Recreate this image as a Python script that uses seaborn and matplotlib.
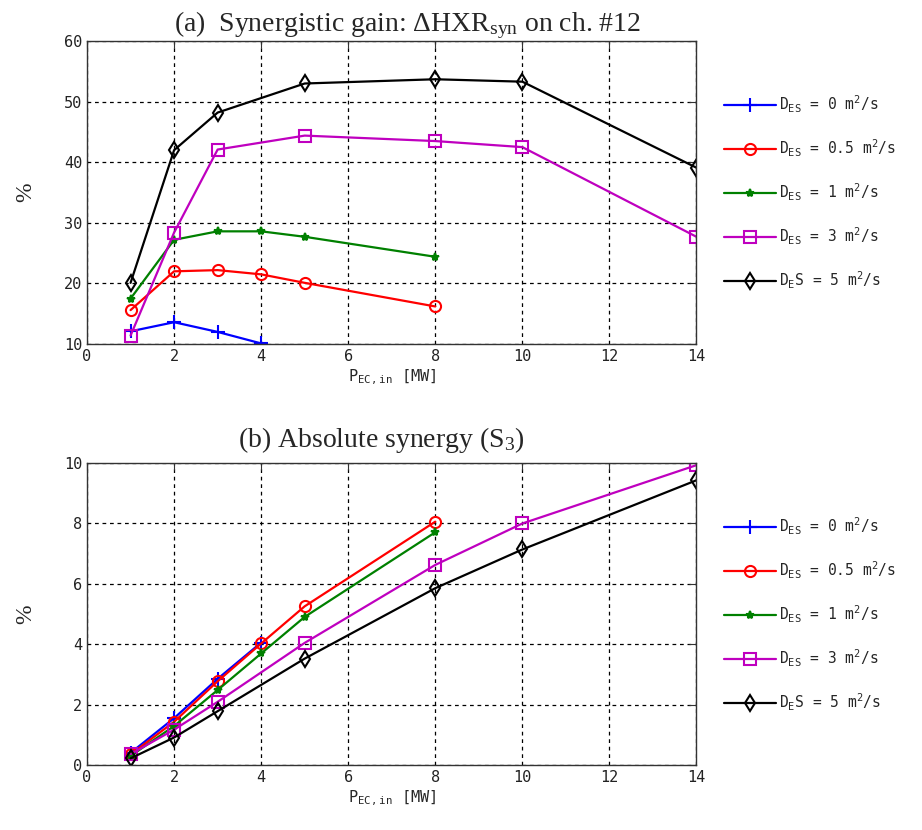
import numpy as np
import pandas as pd
import seaborn as sns
import matplotlib
matplotlib.use("Agg")
import matplotlib.pyplot as plt

# panel (a): synergistic gain [%]
x_a_short = [1, 2, 3, 4]
x_a_mid = [1, 2, 3, 4, 5, 8]
x_a_long = [1, 2, 3, 5, 8, 10, 14]
gain_d0 = [12.1, 13.6, 12.0, 10.1]
gain_d05 = [15.6, 22.0, 22.2, 21.5, 20.1, 16.2]
gain_d1 = [17.5, 27.2, 28.6, 28.6, 27.7, 24.4]
gain_d3 = [11.4, 28.4, 42.1, 44.4, 43.5, 42.5, 27.7]
gain_d5 = [20.1, 42.0, 48.2, 53.0, 53.7, 53.3, 39.1]

# panel (b): absolute synergy [%]
syn_d0 = [0.4, 1.55, 2.85, 4.05]
syn_d05 = [0.35, 1.43, 2.77, 4.02, 5.25, 8.05]
syn_d1 = [0.3, 1.29, 2.48, 3.69, 4.9, 7.7]
syn_d3 = [0.36, 1.17, 2.09, 4.04, 6.62, 7.99, 9.92]
syn_d5 = [0.22, 0.91, 1.78, 3.52, 5.85, 7.13, 9.42]

labels = [r"$\mathregular{D_{ES}}$ = 0 m$\mathregular{^2}$/s",
          r"$\mathregular{D_{ES}}$ = 0.5 m$\mathregular{^2}$/s",
          r"$\mathregular{D_{ES}}$ = 1 m$\mathregular{^2}$/s",
          r"$\mathregular{D_{ES}}$ = 3 m$\mathregular{^2}$/s",
          r"$\mathregular{D_{E}}$S = 5 m$\mathregular{^2}$/s"]
colors = ["#0000ff", "#ff0000", "#008000", "#bf00bf", "#000000"]
markers = ["+", "o", "*", "s", "d"]
msizes = [10, 8, 6, 8, 8]

sns.set_style("white")
plt.rcParams["font.family"] = ["DejaVu Sans Mono"]
plt.rcParams["mathtext.default"] = "regular"

fig = plt.figure(figsize=(9.22, 8.3), dpi=100)
ax_a = fig.add_axes([0.0944, 0.5855, 0.661, 0.365])
ax_b = fig.add_axes([0.0944, 0.0783, 0.661, 0.3642])

xs = [x_a_short, x_a_mid, x_a_mid, x_a_long, x_a_long]


def draw(ax, ys, ylim, yticks):
    for i in range(5):
        df = pd.DataFrame({"x": xs[i], "y": ys[i]})
        sns.lineplot(data=df, x="x", y="y", ax=ax, color=colors[i], lw=1.6,
                     marker=markers[i], markersize=msizes[i],
                     markerfacecolor="none" if markers[i] in "osd" else colors[i],
                     markeredgecolor=colors[i], markeredgewidth=1.5,
                     label=labels[i])
    ax.set_xlim(0, 14)
    ax.set_ylim(*ylim)
    ax.set_xticks(range(0, 15, 2))
    ax.set_yticks(yticks)
    ax.grid(True, color="black", linestyle=(0, (3, 3)), lw=0.9)
    ax.tick_params(direction="in", top=True, right=True, labelsize=11,
                   length=5, color="#333333", labelcolor="#222222")
    for s in ax.spines.values():
        s.set_color("#333333")
        s.set_linewidth(1.0)
    ax.set_xlabel(r"$\mathregular{P_{EC,in}}$ [MW]", fontsize=11, labelpad=3)
    ax.set_ylabel("%", fontsize=17, family=["Liberation Serif"], labelpad=20)
    ax.legend(loc="center left", bbox_to_anchor=(1.035, 0.5), frameon=False,
              fontsize=10.5, handlelength=3.6, handletextpad=0.2,
              labelspacing=1.55, borderaxespad=0)


draw(ax_a, [gain_d0, gain_d05, gain_d1, gain_d3, gain_d5], (10, 60), range(10, 61, 10))
draw(ax_b, [syn_d0, syn_d05, syn_d1, syn_d3, syn_d5], (0, 10), range(0, 11, 2))

fig.text(0.4425, 0.963, r"(a)  Synergistic gain: $\Delta$HXR$_{\mathregular{syn}}$ on ch. #12",
         ha="center", fontsize=20, family=["Liberation Serif"])
fig.text(0.414, 0.461, r"(b) Absolute synergy (S$_3$)",
         ha="center", fontsize=20, family=["Liberation Serif"])

fig.savefig("out.png", dpi=100)
